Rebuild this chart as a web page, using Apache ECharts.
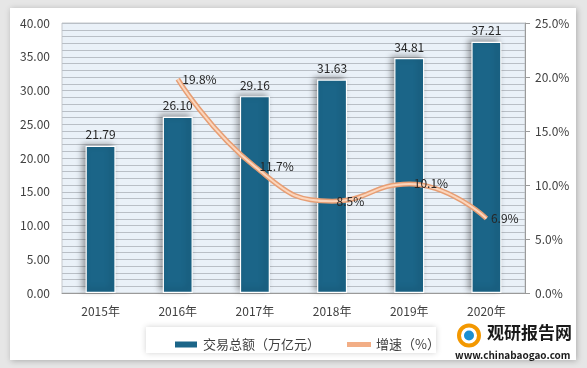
<!DOCTYPE html>
<html><head><meta charset="utf-8">
<script src="https://cdn.jsdelivr.net/npm/echarts@6/dist/echarts.min.js"></script>
<style>html,body{margin:0;padding:0;background:#fff}#c{width:587px;height:368px}</style>
</head><body><div id="c"></div>
<script>
const categories = ['2015年','2016年','2017年','2018年','2019年','2020年'];
const totalValues = [21.79, 26.10, 29.16, 31.63, 34.81, 37.21];
const growthValues = [null, 19.8, 11.7, 8.5, 10.1, 6.9];
const barName = '交易总额（万亿元）';
const lineName = '增速（%）';

const chart = echarts.init(document.getElementById('c'));
const font = "'Microsoft YaHei','Noto Sans CJK SC','DejaVu Sans',sans-serif";
chart.setOption({
  backgroundColor: '#ffffff',
  textStyle: {fontFamily: font},
  graphic: [
    {type:'rect', z:-10, shape:{x:0,y:0,width:587,height:368}, style:{fill:'#e6e6e6'}},
    {type:'rect', z:-9, shape:{x:10,y:8,width:566,height:352}, style:{fill:'#ffffff', shadowBlur:6, shadowColor:'rgba(0,0,0,0.25)', shadowOffsetX:1, shadowOffsetY:1}},
    {type:'rect', z:-8, shape:{x:146,y:327,width:290,height:26}, style:{fill:'#ffffff', shadowBlur:6, shadowColor:'rgba(0,0,0,0.18)'}},
    {type:'group', left:455, top:323, children:[
      {type:'circle', shape:{cx:14,cy:12,r:10}, style:{fill:'none', stroke:'#f39800', lineWidth:4}},
      {type:'circle', shape:{cx:14,cy:12,r:5}, style:{fill:'#1b8fd1'}},
      {type:'text', x:32, y:1, style:{text:'观研报告网', font:'bold 17px '+font, fill:'#1a1a1a'}},
      {type:'text', x:0, y:27, style:{text:'www.chinabaogao.com', font:'bold 10px '+font, fill:'#1a1a1a'}}
    ]}
  ],
  grid: {left:62, right:62, top:23, bottom:75, show:true, backgroundColor:'#eaf1f8', borderColor:'#c4c8cc', borderWidth:1},
  legend: {
    data: [{name:barName, icon:'rect'}, {name:lineName, icon:'path://M0,0h24v5h-24z', itemStyle:{color:'#f2ae86'}}],
    left: 168, top: 333, itemWidth: 24, itemHeight: 8, itemGap: 27,
    textStyle: {fontSize: 13, color:'#404040'}
  },
  xAxis: {
    type:'category', data: categories,
    axisLine:{show:true, lineStyle:{color:'#9a9a9a'}},
    axisTick:{show:false},
    axisLabel:{fontSize:12, color:'#404040', margin:12}
  },
  yAxis: [
    {type:'value', min:0, max:40, interval:5,
     axisLabel:{formatter:v=>v.toFixed(2), fontSize:12, color:'#404040', margin:12},
     axisLine:{show:false}, axisTick:{show:false},
     splitLine:{lineStyle:{color:'#b9bfc6', width:1}},
     minorTick:{show:false, splitNumber:5},
     minorSplitLine:{show:true, lineStyle:{color:'#b9bfc6', width:1}}
    },
    {type:'value', min:0, max:25, interval:5, position:'right',
     axisLabel:{formatter:v=>v.toFixed(1)+'%', fontSize:12, color:'#404040', margin:10},
     axisLine:{show:true, lineStyle:{color:'#9a9a9a'}},
     axisTick:{show:true, inside:false, length:5, lineStyle:{color:'#9a9a9a'}},
     splitLine:{show:false}
    }
  ],
  series: [
    {name:barName, type:'bar', data: totalValues, barWidth:30, yAxisIndex:0,
     itemStyle:{color:'#1b6588', borderColor:'#ffffff', borderWidth:1.2, shadowBlur:6, shadowColor:'rgba(0,0,0,0.35)', shadowOffsetX:-3, shadowOffsetY:-2},
     label:{show:true, position:'top', formatter:p=>p.value.toFixed(2), fontSize:12, color:'#262626', distance:5}
    },
    {name:lineName, type:'line', data: growthValues, yAxisIndex:1, smooth:0.5,
     symbol:'none',
     lineStyle:{color:'#e79e74', width:5},
     itemStyle:{color:'#f2ae86'},
     z:3
    },
    {name:'inner', type:'line', data: growthValues, yAxisIndex:1, smooth:0.5,
     symbol:'circle', symbolSize:1, showSymbol:true,
     itemStyle:{color:'rgba(0,0,0,0)'},
     lineStyle:{color:'#fbd6bd', width:2}, silent:true, z:4,
     label:{show:true, position:'right', formatter:p=>p.value.toFixed(1)+'%', fontSize:12, color:'#262626', distance:4}
    }
  ]
});
</script></body></html>
